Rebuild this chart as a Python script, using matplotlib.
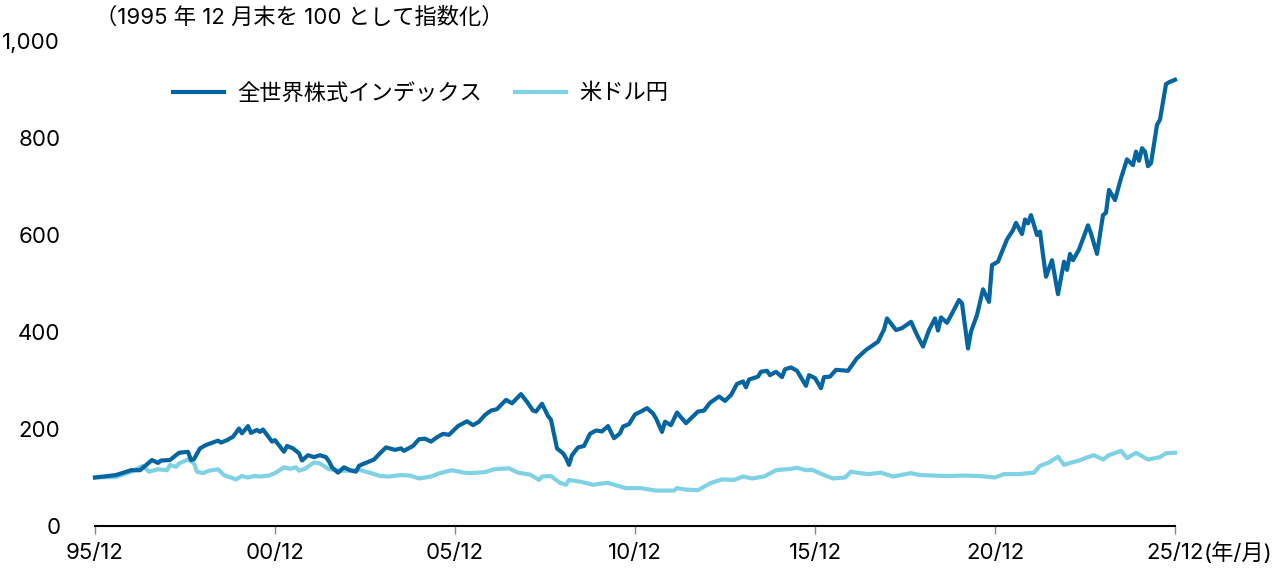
import numpy as np
import matplotlib
matplotlib.use("Agg")
from matplotlib import pyplot as plt

plt.rcParams['font.family'] = ['Inter', 'Noto Sans CJK JP', 'DejaVu Sans']

#Months counted from 1995/12 (1995/12 = 100).
eq_months = [0, 7, 12, 15, 19, 21, 22, 25, 28, 31, 32, 33, 35, 37, 41, 42, 44, 46, 48, 49,
             51, 52, 54, 55, 56, 59, 60, 63, 64, 66, 68, 69, 71, 73, 75, 77, 78, 79, 81, 83,
             85, 87, 88, 89, 93, 95, 97, 100, 102, 103, 106, 108, 110, 112, 114, 116, 118, 121, 124, 126,
             128, 130, 132, 134, 137, 139, 142, 144, 146, 147, 149, 151, 152, 154, 156, 157, 158, 159, 161, 163,
             165, 167, 169, 171, 173, 175, 176, 178, 180, 182, 184, 186, 187, 189, 190, 192, 194, 197, 199, 201,
             203, 205, 208, 210, 212, 214, 216, 217, 218, 221, 222, 224, 225, 227, 229, 230, 232, 234, 237, 238,
             240, 242, 243, 245, 247, 251, 254, 257, 261, 263, 264, 267, 269, 272, 274, 276, 278, 280, 281, 282,
             284, 286, 288, 289, 291, 292, 294, 296, 298, 299, 301, 304, 306, 307, 309, 310, 311, 312, 314, 315,
             316, 317, 319, 321, 323, 324, 325, 326, 328, 331, 332, 334, 336, 337, 338, 340, 342, 344, 346, 347,
             348, 349, 350, 351, 352, 354, 355, 356, 357, 358, 360]
eq_vals = [100, 105, 115, 115, 136, 130, 135, 136, 151, 153, 136, 138, 160, 167, 176, 172, 177, 184, 201, 191,
           206, 192, 198, 194, 199, 174, 177, 153, 165, 160, 150, 135, 146, 142, 146, 142, 133, 121, 110, 121,
           115, 112, 124, 127, 137, 150, 162, 157, 160, 155, 165, 179, 180, 174, 183, 190, 188, 206, 216, 208,
           215, 229, 238, 241, 260, 253, 272, 256, 238, 236, 252, 227, 219, 160, 150, 140, 126, 146, 162, 165,
           190, 197, 195, 206, 181, 191, 205, 210, 230, 236, 243, 232, 222, 194, 215, 208, 234, 212, 224, 236,
           238, 254, 267, 258, 270, 293, 298, 286, 302, 308, 318, 320, 311, 318, 307, 323, 327, 320, 289, 311,
           305, 284, 307, 308, 322, 320, 346, 363, 380, 405, 428, 404, 408, 421, 394, 370, 404, 428, 403, 430,
           419, 442, 466, 459, 366, 401, 435, 488, 462, 538, 545, 591, 610, 625, 602, 632, 624, 641, 600, 607,
           559, 514, 548, 478, 545, 528, 561, 548, 570, 620, 603, 561, 641, 646, 693, 672, 717, 756, 744, 772,
           753, 779, 772, 742, 748, 827, 838, 875, 911, 915, 920]

usd_months = [0, 7, 12, 16, 18, 21, 24, 25, 27, 28, 31, 33, 34, 36, 38, 41, 43, 47, 49, 51,
              53, 55, 58, 60, 63, 65, 67, 68, 70, 73, 75, 78, 82, 86, 88, 92, 95, 98, 102, 105,
              108, 112, 115, 119, 123, 125, 130, 133, 138, 141, 145, 148, 149, 152, 155, 157, 158, 162, 166, 168,
              171, 173, 177, 182, 187, 193, 194, 197, 201, 205, 209, 213, 216, 219, 223, 227, 232, 234, 237, 239,
              243, 246, 250, 252, 255, 258, 262, 266, 272, 275, 284, 290, 295, 300, 303, 308, 313, 315, 318, 321,
              323, 325, 328, 331, 333, 336, 338, 342, 344, 347, 351, 355, 357, 360]
usd_vals = [100, 101, 112, 124, 112, 117, 115, 126, 122, 129, 137, 129, 112, 109, 114, 117, 105, 96, 103, 100,
            103, 102, 104, 109, 121, 118, 121, 114, 118, 131, 129, 117, 114, 114, 116, 109, 103, 102, 105, 104,
            98, 102, 109, 115, 110, 109, 111, 117, 119, 110, 106, 95, 102, 103, 89, 85, 95, 91, 85, 87,
            89, 85, 78, 78, 73, 73, 78, 75, 74, 88, 96, 95, 102, 98, 102, 115, 118, 120, 115, 116,
            105, 98, 100, 112, 109, 107, 110, 102, 109, 105, 103, 104, 103, 100, 107, 107, 110, 124, 131, 143,
            126, 130, 135, 142, 146, 137, 146, 155, 140, 151, 137, 142, 150, 151]

tick_pos = [0, 60, 120, 180, 240, 300, 360]
tick_labels = ["95/12", "00/12", "05/12", "10/12", "15/12", "20/12", "25/12"]
y_ticks = [0, 200, 400, 600, 800, 1000]
y_labels = ["0", "200", "400", "600", "800", "1,000"]

eq_color = "#0565A0"
usd_color = "#7FD2E4"
fs = 16

fig = plt.figure(figsize = (12.8, 5.72), dpi = 100)
ax = fig.add_axes([95 / 1280, 1 - 526 / 572, 1080 / 1280, 485 / 572])

ax.plot(eq_months, eq_vals, color = eq_color, lw = 3, label = "全世界株式インデックス", clip_on = False, zorder = 3)
ax.plot(usd_months, usd_vals, color = usd_color, lw = 3, label = "米ドル円", clip_on = False, zorder = 2)

ax.set_xlim(0, 360)
ax.set_ylim(0, 1000)
ax.set_xticks(tick_pos)
ax.set_xticklabels(tick_labels)
ax.set_yticks(y_ticks)
ax.set_yticklabels(y_labels)

for s in ["top", "right", "left"]:
    ax.spines[s].set_visible(False)
ax.spines["bottom"].set_color("black")
ax.spines["bottom"].set_linewidth(1.5)
ax.tick_params(axis = "x", length = 6, color = "#888888", width = 1, pad = 6, labelsize = fs)
ax.tick_params(axis = "y", length = 0, pad = 25, labelsize = fs)

fig.text(95 / 1280, 1 - 17 / 572, "（1995 年 12 月末を 100 として指数化）", ha = "left", va = "center", fontsize = fs)

ax.legend(loc = "center left", bbox_to_anchor = (0.072, 0.893), ncol = 2, frameon = False, fontsize = fs,
          borderaxespad = 0, borderpad = 0,
          handlelength = 2.3, handletextpad = 0.6, columnspacing = 1.5)

#unit label glued to the right end of the last tick label
fig.canvas.draw()
last = ax.get_xticklabels()[-1].get_window_extent()
x0, yc = fig.transFigure.inverted().transform((last.x1, (last.y0 + last.y1) / 2))
fig.text(x0, yc, "(年/月)", ha = "left", va = "center", fontsize = fs)

fig.savefig("out.png", dpi = 100)
